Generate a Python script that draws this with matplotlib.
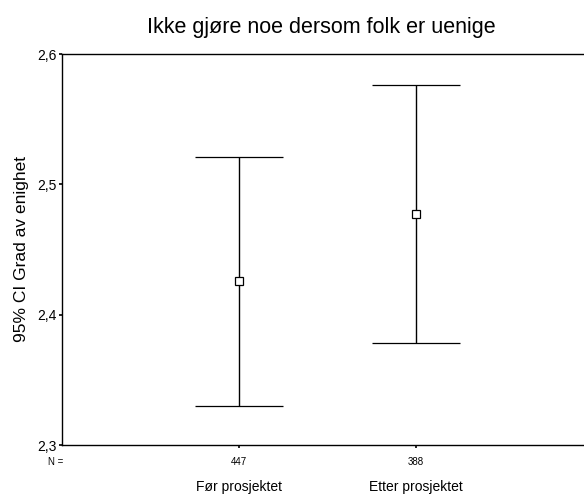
import matplotlib
matplotlib.use("Agg")
import matplotlib.pyplot as plt
import numpy as np

# Data
groups = ["Før prosjektet", "Etter prosjektet"]
counts = [447, 388]
means = [2.426, 2.477]
ci_low = [2.330, 2.378]
ci_high = [2.521, 2.576]

plt.rcParams["font.family"] = ["Liberation Sans", "DejaVu Sans"]

fig = plt.figure(figsize=(5.84, 4.94), dpi=100)
# axes spans past the right edge of the figure like in the original
ax = fig.add_axes([62 / 584, (494 - 445) / 494, 531 / 584, 391 / 494])

x = np.arange(1, len(groups) + 1)
means = np.array(means)
yerr = np.array([means - np.array(ci_low), np.array(ci_high) - means])
ax.errorbar(x, means, yerr=yerr, fmt="s", mfc="white", mec="black", ms=5.5,
            mew=0.9, ecolor="black", elinewidth=1.0, capsize=31.7, capthick=1.0)

ax.set_xlim(0, 3)
ax.set_ylim(2.3, 2.6)
ax.set_yticks([2.3, 2.4, 2.5, 2.6])
ax.set_yticklabels(["2,3", "2,4", "2,5", "2,6"], fontsize=10)
ax.set_xticks(x)
ax.set_xticklabels([])
ax.tick_params(length=2, width=1.2, pad=2)
for s in ax.spines.values():
    s.set_linewidth(1.0)

ax.set_ylabel("95% CI Grad av enighet", fontsize=12.5, labelpad=6)

# N row and group labels below the axis
ax.text(0.01, 2.287, "N =", fontsize=7, ha="right", va="center", clip_on=False)
for xi, n, g in zip(x, counts, groups):
    ax.text(xi, 2.287, str(n), fontsize=7, ha="center", va="center")
    ax.text(xi, 2.268, g, fontsize=10, ha="center", va="center")

fig.text(147 / 584, 1 - 28 / 494, "Ikke gjøre noe dersom folk er uenige",
         fontsize=15.5, ha="left", va="center")

fig.savefig("out.png", dpi=100)
